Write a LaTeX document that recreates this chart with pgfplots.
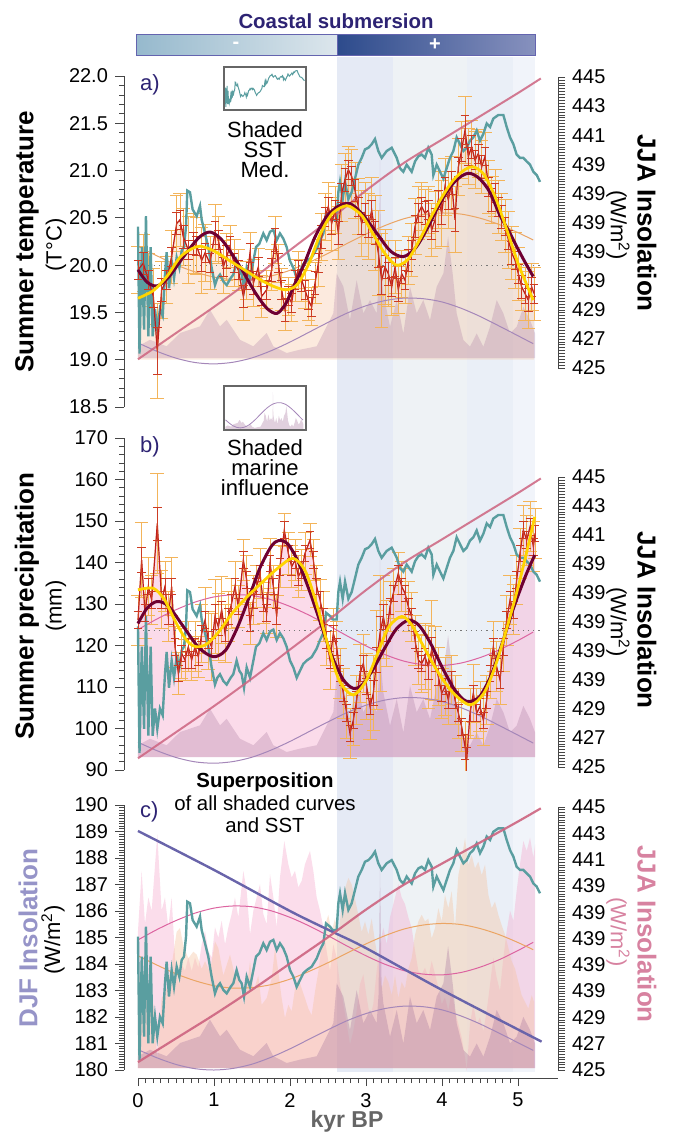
\documentclass[border=0pt]{standalone}
\usepackage{fontspec}
\setmainfont{Liberation Sans}
\usepackage{pgfplots}
\usepackage{pgfplotstable}
\pgfplotsset{compat=1.18}

\definecolor{teal2}{RGB}{90,158,160}
\definecolor{jja}{RGB}{205,100,128}
\definecolor{djf}{RGB}{105,100,170}
\definecolor{redL}{RGB}{190,30,30}
\definecolor{redE}{RGB}{205,60,35}
\definecolor{orE}{RGB}{243,180,90}
\definecolor{maroon}{RGB}{110,0,50}
\definecolor{yel}{RGB}{255,212,0}
\definecolor{sinO}{RGB}{235,165,100}
\definecolor{sinP}{RGB}{165,135,185}
\definecolor{sinK}{RGB}{220,100,160}
\definecolor{peachF}{RGB}{245,195,160}
\definecolor{mauve}{RGB}{170,120,160}
\definecolor{pinkF}{RGB}{245,170,205}
\definecolor{navy}{RGB}{45,35,115}
\definecolor{axgray}{RGB}{70,70,70}
\definecolor{dotg}{RGB}{120,120,120}
\definecolor{bandA}{RGB}{229,234,245}
\definecolor{bandB}{RGB}{238,242,245}
\definecolor{bandC}{RGB}{234,239,247}
\definecolor{bandD}{RGB}{241,244,250}
\definecolor{djfT}{RGB}{150,148,200}
\definecolor{jjaT}{RGB}{215,130,160}
\definecolor{banL1}{RGB}{150,185,205}
\definecolor{banL2}{RGB}{220,230,236}
\definecolor{banR1}{RGB}{45,75,140}
\definecolor{banR2}{RGB}{135,145,190}
\definecolor{banB}{RGB}{100,100,175}

\newcommand{\tf}{\fontsize{10pt}{12pt}\selectfont}

\pgfplotstableread{
x y e r
0.000 19.95 0.25 0.10
0.070 20.02 0.30 0.12
0.136 19.84 0.28 0.10
0.202 19.67 0.30 0.12
0.254 19.09 0.50 0.25
0.311 19.74 0.30 0.12
0.377 19.84 0.25 0.10
0.443 20.09 0.28 0.10
0.509 20.44 0.30 0.12
0.553 20.48 0.28 0.10
0.596 20.30 0.30 0.12
0.662 20.16 0.35 0.10
0.728 20.23 0.32 0.12
0.772 20.20 0.30 0.10
0.838 20.05 0.35 0.12
0.882 20.13 0.30 0.10
0.947 20.02 0.28 0.10
1.013 20.34 0.30 0.12
1.057 20.27 0.25 0.10
1.123 19.98 0.28 0.10
1.167 20.09 0.25 0.12
1.211 20.20 0.22 0.10
1.263 20.02 0.25 0.10
1.320 19.95 0.22 0.10
1.386 19.67 0.25 0.12
1.430 19.84 0.20 0.10
1.474 20.13 0.22 0.10
1.518 19.81 0.25 0.12
1.583 19.98 0.20 0.10
1.627 19.67 0.22 0.10
1.693 19.74 0.20 0.10
1.759 19.95 0.22 0.12
1.803 20.27 0.25 0.12
1.846 20.02 0.20 0.10
1.890 19.74 0.22 0.10
1.934 19.53 0.22 0.12
1.978 19.67 0.20 0.10
2.022 19.60 0.20 0.10
2.066 19.84 0.22 0.10
2.110 19.95 0.20 0.10
2.154 19.84 0.22 0.12
2.197 19.74 0.20 0.10
2.241 19.63 0.22 0.10
2.285 19.56 0.20 0.10
2.329 19.81 0.22 0.12
2.373 20.02 0.25 0.10
2.417 20.30 0.25 0.12
2.461 20.51 0.25 0.10
2.504 20.62 0.25 0.10
2.548 20.44 0.28 0.12
2.592 20.58 0.25 0.10
2.636 20.34 0.28 0.12
2.680 20.76 0.30 0.10
2.724 20.90 0.28 0.12
2.768 21.01 0.25 0.10
2.811 20.94 0.28 0.10
2.855 20.79 0.30 0.12
2.899 20.62 0.30 0.10
2.943 20.44 0.35 0.12
2.987 20.55 0.32 0.10
3.031 20.41 0.35 0.12
3.075 20.58 0.35 0.10
3.118 20.34 0.40 0.12
3.162 20.13 0.45 0.15
3.206 19.84 0.50 0.15
3.250 19.98 0.40 0.12
3.294 19.91 0.35 0.12
3.338 19.77 0.30 0.10
3.382 19.98 0.28 0.10
3.425 19.74 0.25 0.12
3.469 19.91 0.25 0.10
3.513 19.84 0.25 0.10
3.557 20.05 0.25 0.12
3.601 20.16 0.28 0.10
3.645 20.41 0.30 0.12
3.689 20.55 0.28 0.10
3.732 20.62 0.25 0.10
3.776 20.55 0.25 0.12
3.820 20.58 0.25 0.10
3.864 20.37 0.28 0.10
3.908 20.48 0.30 0.12
3.952 20.69 0.30 0.10
3.996 20.55 0.35 0.12
4.039 20.83 0.30 0.10
4.083 20.69 0.30 0.10
4.127 20.87 0.28 0.12
4.171 20.48 0.35 0.12
4.215 21.04 0.30 0.10
4.259 21.22 0.30 0.12
4.303 21.43 0.35 0.15
4.346 21.15 0.30 0.10
4.390 21.25 0.28 0.12
4.434 21.11 0.30 0.10
4.478 21.18 0.25 0.10
4.522 21.04 0.28 0.12
4.566 21.15 0.25 0.10
4.610 20.83 0.28 0.10
4.654 20.69 0.25 0.12
4.697 20.76 0.25 0.10
4.741 20.62 0.28 0.10
4.785 20.51 0.25 0.12
4.829 20.41 0.28 0.10
4.873 20.27 0.30 0.10
4.917 20.13 0.28 0.12
4.961 20.05 0.30 0.10
5.004 19.91 0.28 0.10
5.048 19.77 0.25 0.12
5.092 19.70 0.28 0.10
5.136 19.63 0.30 0.12
5.180 19.77 0.25 0.10
5.211 19.70 0.28 0.10
}\Tdata

\pgfplotstableread{
x y e r
0.000 126.1 6 2
0.048 140.6 9 3
0.092 127.8 6 2
0.136 134.2 7 2
0.180 131.0 6 2
0.254 149.4 12 4
0.311 131.0 7 2
0.355 134.2 6 2
0.399 127.0 6 2
0.443 134.2 7 2
0.487 119.7 5 2
0.531 113.3 5 2
0.575 118.1 6 2
0.618 116.5 5 2
0.662 119.7 6 2
0.706 116.5 5 2
0.750 119.7 6 2
0.794 117.3 5 2
0.838 122.9 7 2
0.882 126.1 8 2
0.925 121.3 7 2
0.969 119.7 8 2
1.013 127.0 9 3
1.057 124.5 8 2
1.101 128.6 8 2
1.145 122.9 7 2
1.189 127.0 6 2
1.232 130.2 6 2
1.276 134.2 6 2
1.320 129.4 5 2
1.386 140.6 5 2
1.430 135.8 6 2
1.474 125.3 5 2
1.518 131.0 6 2
1.561 134.2 5 2
1.605 137.4 6 2
1.649 130.2 5 2
1.693 127.8 5 2
1.737 139.8 6 2
1.781 134.2 5 2
1.825 127.0 5 2
1.868 139.0 5 2
1.925 147.8 4 2
1.978 142.2 5 2
2.022 139.0 5 2
2.066 140.6 5 2
2.110 136.6 5 2
2.154 138.2 5 2
2.197 142.2 5 2
2.263 145.4 4 2
2.307 140.6 5 2
2.351 134.2 5 2
2.395 131.0 5 2
2.439 127.0 6 2
2.482 121.3 6 2
2.526 116.5 7 2
2.570 122.9 6 2
2.614 119.7 6 2
2.658 113.3 6 2
2.702 108.5 6 2
2.746 103.7 6 2
2.789 98.8 6 2
2.833 102.0 6 2
2.877 106.9 6 2
2.921 113.3 7 2
2.965 115.7 7 2
3.009 110.1 8 2
3.053 105.3 8 2
3.096 108.5 9 3
3.140 116.5 12 3
3.184 122.9 14 4
3.228 126.9 10 3
3.272 122.9 8 2
3.316 129.4 6 2
3.360 132.6 6 2
3.425 137.4 5 2
3.469 134.2 6 2
3.513 132.6 6 2
3.557 129.4 6 2
3.601 126.9 6 2
3.645 121.3 6 2
3.689 116.5 6 2
3.732 115.7 7 2
3.776 117.3 8 2
3.820 114.9 10 3
3.864 118.9 12 3
3.908 115.7 9 2
3.952 112.5 7 2
3.996 108.5 6 2
4.039 110.1 7 2
4.083 106.9 6 2
4.127 111.7 6 2
4.171 106.9 6 2
4.215 103.7 6 2
4.259 100.4 6 2
4.303 95.6 6 3
4.325 92.4 6 3
4.368 103.7 6 2
4.412 108.5 7 2
4.456 103.7 6 2
4.500 105.3 6 2
4.544 102.0 6 2
4.588 106.9 6 2
4.632 113.3 6 2
4.675 119.7 6 2
4.719 114.9 6 2
4.763 111.7 6 2
4.807 119.7 6 2
4.851 126.1 6 2
4.895 131.0 6 2
4.939 128.6 6 2
4.982 135.8 6 2
5.026 142.2 6 2
5.070 147.8 6 2
5.114 145.4 6 2
5.158 148.6 6 2
5.202 143.8 6 2
5.224 147.0 6 2
}\Pdata

\pgfplotstableread{
x y
0.000 185.03
0.020 180.38
0.050 184.28
0.080 181.26
0.105 185.41
0.136 181.01
0.167 184.28
0.193 181.01
0.224 182.01
0.254 181.26
0.289 182.01
0.325 181.76
0.355 183.27
0.377 184.09
0.408 182.77
0.443 183.77
0.474 183.14
0.509 183.90
0.544 183.52
0.575 184.15
0.605 184.28
0.632 185.03
0.649 186.35
0.684 186.29
0.719 185.66
0.772 185.41
0.816 185.79
0.838 185.28
0.882 184.78
0.925 184.28
0.969 183.52
1.013 182.89
1.044 183.14
1.079 183.27
1.123 183.02
1.167 182.89
1.219 183.14
1.254 183.27
1.298 183.77
1.333 183.40
1.364 183.27
1.395 182.77
1.430 183.52
1.474 183.14
1.518 183.77
1.553 184.28
1.596 184.40
1.649 184.78
1.693 184.53
1.737 184.84
1.781 184.91
1.825 184.53
1.868 184.78
1.912 184.59
1.956 184.28
2.000 183.77
2.044 183.52
2.088 183.14
2.132 183.40
2.175 183.65
2.219 183.77
2.285 183.90
2.351 184.21
2.395 184.53
2.439 184.78
2.474 185.53
2.526 185.41
2.561 185.28
2.614 185.28
2.636 186.29
2.658 186.67
2.693 186.04
2.724 186.67
2.768 186.04
2.811 186.29
2.855 186.79
2.899 187.30
2.943 187.55
2.987 187.86
3.031 187.92
3.075 188.05
3.118 188.24
3.162 187.80
3.206 187.55
3.272 187.80
3.338 187.92
3.404 187.55
3.447 187.17
3.491 187.04
3.535 187.30
3.601 187.04
3.645 187.42
3.689 187.61
3.732 187.67
3.776 187.55
3.820 187.92
3.864 187.67
3.886 186.92
3.930 187.30
3.974 187.04
4.018 186.79
4.061 187.17
4.105 187.55
4.149 187.80
4.193 188.30
4.237 188.05
4.281 187.80
4.325 187.92
4.368 188.18
4.412 188.30
4.456 188.55
4.500 188.18
4.544 188.43
4.588 188.81
4.632 188.68
4.675 188.99
4.741 189.12
4.807 189.12
4.851 188.68
4.895 188.30
4.939 188.05
4.982 187.67
5.026 187.55
5.070 187.55
5.114 187.42
5.158 187.30
5.202 187.04
5.246 186.92
5.289 186.67
}\SST

\pgfplotstableread{
x m
0.000 5.6
0.158 8.7
0.377 5.6
0.553 11.9
0.816 15.1
0.947 23.0
1.079 15.1
1.167 18.2
1.342 8.7
1.518 5.6
1.693 11.9
1.781 5.6
1.956 2.4
2.132 4.0
2.351 5.6
2.570 21.4
2.614 40.3
2.702 34.0
2.789 18.1
2.877 37.1
2.965 21.3
3.053 27.6
3.140 21.3
3.165 35.0
3.184 94.3
3.205 40.0
3.228 30.8
3.316 14.9
3.404 27.6
3.491 11.7
3.579 34.0
3.667 21.3
3.754 27.6
3.842 18.1
3.930 34.0
4.018 40.3
4.080 58.0
4.140 40.3
4.193 21.3
4.281 8.6
4.368 5.4
4.456 11.7
4.544 5.4
4.632 14.9
4.719 27.6
4.807 21.3
4.895 11.7
4.982 14.9
5.070 24.4
5.158 18.1
5.224 11.7
}\Mar

\pgfplotstableread{
x k o p
0.00 184.91 184.31 180.77
0.25 185.30 183.96 180.46
0.50 185.64 183.63 180.21
0.75 185.92 183.37 180.05
1.00 186.11 183.18 180.00
1.25 186.19 183.09 180.06
1.50 186.16 183.11 180.22
1.75 186.01 183.22 180.48
2.00 185.76 183.43 180.80
2.25 185.44 183.72 181.16
2.50 185.07 184.05 181.52
2.75 184.68 184.41 181.86
3.00 184.31 184.76 182.13
3.25 183.99 185.07 182.32
3.50 183.75 185.32 182.41
3.75 183.62 185.47 182.39
4.00 183.59 185.53 182.27
4.25 183.68 185.49 182.04
4.50 183.88 185.34 181.74
4.75 184.16 185.11 181.39
5.00 184.51 184.81 181.03
5.20 184.82 184.54 180.74
}\Sin

\pgfplotstableread{
x y
0.0 425.6
0.5 427.4
1.0 429.2
1.5 431.1
2.0 433.1
2.5 435.1
3.0 437.2
3.5 439.1
4.0 440.7
4.5 442.3
5.0 443.9
5.3 444.9
}\JJA

\pgfplotstableread{
x y
0.00 189.02
1.00 187.55
2.00 186.00
2.57 185.20
3.00 184.60
4.00 183.02
5.31 181.07
}\DJF

\pgfplotstableread{
x y
0.00 19.95
0.12 19.82
0.25 19.78
0.40 19.87
0.60 20.09
0.80 20.29
0.95 20.35
1.10 20.27
1.25 20.10
1.39 19.92
1.55 19.70
1.70 19.54
1.83 19.49
1.95 19.60
2.05 19.78
2.18 20.00
2.33 20.30
2.48 20.51
2.63 20.62
2.79 20.65
2.95 20.54
3.14 20.34
3.32 20.15
3.49 20.09
3.65 20.18
3.80 20.38
3.95 20.62
4.10 20.82
4.25 20.94
4.37 20.97
4.50 20.91
4.63 20.77
4.76 20.53
4.88 20.36
4.98 20.20
5.10 20.02
5.20 19.88
}\MarA

\pgfplotstableread{
x y
0.00 19.65
0.20 19.73
0.38 19.88
0.55 20.08
0.70 20.17
0.82 20.20
1.00 20.15
1.20 20.05
1.40 19.95
1.60 19.85
1.80 19.77
1.96 19.74
2.10 19.80
2.25 20.02
2.40 20.33
2.55 20.54
2.70 20.62
2.79 20.62
2.95 20.52
3.10 20.32
3.25 20.12
3.40 20.00
3.55 20.06
3.70 20.26
3.85 20.50
4.00 20.72
4.15 20.90
4.30 21.01
4.41 21.04
4.55 20.96
4.70 20.72
4.85 20.38
5.00 20.02
5.10 19.82
5.20 19.63
}\YelA

\pgfplotstableread{
x y
0.00 125.3
0.12 129.0
0.25 130.6
0.40 129.5
0.60 124.5
0.80 119.5
0.99 117.3
1.15 118.8
1.30 124.0
1.45 131.0
1.60 138.5
1.75 143.8
1.85 145.3
1.97 144.5
2.10 140.5
2.25 133.5
2.40 125.5
2.55 117.5
2.70 111.8
2.83 109.7
2.95 110.5
3.10 114.5
3.25 119.5
3.40 124.0
3.56 126.1
3.70 124.8
3.85 120.5
4.00 114.8
4.15 109.8
4.28 107.0
4.37 106.5
4.50 107.8
4.65 113.0
4.80 121.0
4.95 129.5
5.10 136.8
5.22 141.8
}\MarB

\pgfplotstableread{
x y
0.00 133.4
0.20 133.8
0.35 131.0
0.50 125.5
0.65 121.0
0.77 119.7
0.90 120.3
1.05 123.0
1.25 128.0
1.45 132.0
1.65 135.5
1.85 138.8
2.04 141.0
2.20 138.0
2.35 130.0
2.50 120.0
2.65 111.5
2.83 108.1
3.00 111.5
3.15 118.0
3.30 124.5
3.47 127.0
3.60 125.0
3.75 120.0
3.95 113.5
4.15 108.5
4.37 105.7
4.55 108.5
4.70 115.0
4.85 124.0
5.00 134.0
5.12 143.0
5.22 151.0
}\YelB

\pgfplotsset{
  base/.style={scale only axis, width=217pt, xmin=-0.184, xmax=5.526},
  hid/.style={base, hide axis},
  pa/.style={at={(62pt,-203.5pt)}, height=165.5pt},
  pb/.style={at={(62pt,-385pt)}, height=166pt},
  pc/.style={at={(62pt,-535pt)}, height=132.5pt},
  leftax/.style={base, axis x line=none, axis y line*=left,
    axis line style={-, axgray, line width=0.5pt}, tick align=outside, ytick pos=left,
    major tick length=4.5pt, minor tick length=2.5pt,
    tick style={axgray, line width=0.4pt}, yticklabel style={font=\tf, text=black}},
  rightax/.style={base, axis x line=none, axis y line*=right,
    axis line style={-, axgray, line width=0.5pt}, tick align=outside, ytick pos=right,
    ymin=425, ymax=445, ytick={425,427,...,445},
    yticklabels={425,427,429,439,439,439,439,439,441,443,445},
    minor y tick num=9, major tick length=3.5pt, minor tick length=3.5pt,
    tick style={axgray, line width=0.3pt}, yticklabel style={font=\tf, text=black}},
}

\begin{document}
\begin{tikzpicture}
\useasboundingbox (0,0) rectangle (336.5pt,-567pt);
% background bands
\fill[bandA] (168.5pt,-28.5pt) rectangle (196.5pt,-536pt);
\fill[bandB] (196.5pt,-28.5pt) rectangle (233.5pt,-536pt);
\fill[bandC] (233.5pt,-28.5pt) rectangle (256.5pt,-536pt);
\fill[bandD] (256.5pt,-28.5pt) rectangle (267.5pt,-536pt);
% banner
\shade[left color=banL1, right color=banL2] (68pt,-17.5pt) rectangle (168.5pt,-28pt);
\shade[left color=banR1, right color=banR2] (168.5pt,-17.5pt) rectangle (267.5pt,-28pt);
\draw[banB, line width=0.5pt] (68pt,-17.5pt) rectangle (267.5pt,-28pt);
\draw[banB, line width=0.5pt] (168.5pt,-17.5pt) -- (168.5pt,-28pt);
\node[white, font=\bfseries\fontsize{10}{12}\selectfont] at (118pt,-22.5pt) {-};
\node[white, font=\bfseries\fontsize{10}{12}\selectfont] at (217.5pt,-22.5pt) {+};
\node[navy, font=\bfseries\fontsize{10.2}{12}\selectfont] at (168pt,-10.5pt) {Coastal submersion};

% ================= PANEL A =================
\begin{axis}[hid, pa, ymin=18.5, ymax=22]
\addplot[fill=peachF, fill opacity=0.35, draw=none] table[x=x,y=y]{\Tdata} -- (axis cs:5.211,19) -- (axis cs:0,19) -- cycle;
\end{axis}
\begin{axis}[hid, pa, ymin=-23.3, ymax=134.3]
\addplot[fill=mauve, fill opacity=0.28, draw=none] table[x=x,y=m]{\Mar} \closedcycle;
\end{axis}
\begin{axis}[leftax, pa, ymin=18.5, ymax=22, ytick={18.5,19,...,22}, minor y tick num=4,
  yticklabel style={/pgf/number format/fixed, /pgf/number format/fixed zerofill,
  /pgf/number format/precision=1, /pgf/number format/assume math mode=true}]
\addplot[orE, line width=0.45pt, mark=none, error bars/.cd, y dir=both, y explicit,
  error bar style={orE, line width=0.45pt}, error mark options={orE, rotate=90, mark size=3.4pt, line width=0.45pt}]
  table[x=x,y=y,y error=e]{\Tdata};
\addplot[dotg, dotted, line width=0.6pt] coordinates {(0,20) (5.29,20)};
\end{axis}
\begin{axis}[hid, pa, ymin=178.42, ymax=190.55]
\addplot[sinO, line width=0.5pt, smooth] table[x=x,y=o]{\Sin};
\addplot[sinP, line width=0.5pt, smooth] table[x=x,y=p]{\Sin};
\addplot[teal2, line width=1.2pt] table[x=x,y=y]{\SST};
\end{axis}
\begin{axis}[rightax, at={(62pt,-184pt)}, height=145.5pt]
\addplot[jja, opacity=0.85, line width=1pt, smooth] table[x=x,y=y]{\JJA};
\end{axis}
\begin{axis}[base, pa, ymin=18.5, ymax=22, axis lines=none]
\addplot[redL, line width=0.6pt, mark=none, error bars/.cd, y dir=both, y explicit,
  error bar style={redE, line width=0.4pt}, error mark options={redE, rotate=90, mark size=2.2pt, line width=0.4pt}]
  table[x=x,y=y,y error=r]{\Tdata};
\addplot[maroon, line width=1.5pt, smooth] table[x=x,y=y]{\MarA};
\addplot[yel, line width=1.4pt, smooth] table[x=x,y=y]{\YelA};
\end{axis}

% ================= PANEL B =================
\begin{axis}[hid, pb, ymin=90, ymax=170]
\addplot[fill=pinkF, fill opacity=0.42, draw=none] table[x=x,y=y]{\Pdata} -- (axis cs:5.224,93.1) -- (axis cs:0,93.1) -- cycle;
\end{axis}
\begin{axis}[hid, pb, ymin=-6.19, ymax=151.9]
\addplot[fill=mauve, fill opacity=0.3, draw=none] table[x=x,y=m]{\Mar} \closedcycle;
\end{axis}
\begin{axis}[leftax, pb, ymin=90, ymax=170, ytick={90,100,...,170}, minor y tick num=4,
  yticklabel style={/pgf/number format/assume math mode=true}]
\addplot[orE, line width=0.45pt, mark=none, error bars/.cd, y dir=both, y explicit,
  error bar style={orE, line width=0.45pt}, error mark options={orE, rotate=90, mark size=3.4pt, line width=0.45pt}]
  table[x=x,y=y,y error=e]{\Pdata};
\addplot[dotg, dotted, line width=0.6pt] coordinates {(0,123.6) (5.29,123.6)};
\end{axis}
\begin{axis}[hid, pb, ymin=179.75, ymax=191.95]
\addplot[sinK, line width=0.5pt, smooth] table[x=x,y=k]{\Sin};
\addplot[sinP, line width=0.5pt, smooth] table[x=x,y=p]{\Sin};
\addplot[teal2, line width=1.2pt] table[x=x,y=y]{\SST};
\end{axis}
\begin{axis}[rightax, at={(62pt,-383.5pt)}, height=145pt]
\addplot[jja, opacity=0.85, line width=1pt, smooth] table[x=x,y=y]{\JJA};
\end{axis}
\begin{axis}[base, pb, ymin=90, ymax=170, axis lines=none]
\addplot[redL, line width=0.6pt, mark=none, error bars/.cd, y dir=both, y explicit,
  error bar style={redE, line width=0.4pt}, error mark options={redE, rotate=90, mark size=2.2pt, line width=0.4pt}]
  table[x=x,y=y,y error=r]{\Pdata};
\addplot[maroon, line width=1.5pt, smooth] table[x=x,y=y]{\MarB};
\addplot[yel, line width=1.4pt, smooth] table[x=x,y=y]{\YelB};
\end{axis}

% ================= PANEL C =================
\begin{axis}[hid, pc, ymin=92.62, ymax=156.47]
\addplot[fill=pinkF, fill opacity=0.4, draw=none] table[x=x,y=y]{\Pdata} -- (axis cs:5.224,93.1) -- (axis cs:0,93.1) -- cycle;
\end{axis}
\begin{axis}[hid, pc, ymin=18.98, ymax=21.78]
\addplot[fill=peachF, fill opacity=0.4, draw=none] table[x=x,y=y]{\Tdata} -- (axis cs:5.211,19) -- (axis cs:0,19) -- cycle;
\end{axis}
\begin{axis}[hid, pc, ymin=-0.95, ymax=125.2]
\addplot[fill=mauve, fill opacity=0.35, draw=none] table[x=x,y=m]{\Mar} \closedcycle;
\end{axis}
\begin{axis}[leftax, pc, ymin=180, ymax=190, ytick={180,181,...,190}, minor y tick num=9,
  yticklabel style={/pgf/number format/assume math mode=true}]
\addplot[sinK, line width=0.5pt, smooth] table[x=x,y=k]{\Sin};
\addplot[sinO, line width=0.5pt, smooth] table[x=x,y=o]{\Sin};
\addplot[sinP, line width=0.5pt, smooth] table[x=x,y=p]{\Sin};
\addplot[teal2, line width=1.2pt] table[x=x,y=y]{\SST};
\addplot[djf, line width=1.2pt, smooth] table[x=x,y=y]{\DJF};
\end{axis}
\begin{axis}[rightax, at={(62pt,-535pt)}, height=131.5pt]
\addplot[jja, opacity=0.9, line width=1.1pt, smooth] table[x=x,y=y]{\JJA};
\end{axis}

% bottom x axis
\begin{axis}[scale only axis, width=210pt, height=5pt, at={(69pt,-539pt)},
  xmin=0, xmax=5.526, ymin=0, ymax=1, axis y line=none, axis x line*=bottom,
  axis line style={-, axgray, line width=0.5pt}, tick align=outside, xtick pos=bottom,
  xtick={0,1,...,5}, minor x tick num=9, major tick length=4pt, minor tick length=2.5pt,
  tick style={axgray, line width=0.4pt},
  xticklabel style={font=\tf, /pgf/number format/assume math mode=true}]
\addplot[draw=none] coordinates {(0,0.5) (5,0.5)};
\end{axis}

% insets
\begin{axis}[scale only axis, width=41pt, height=21.5pt, at={(112pt,-55pt)},
  xmin=-0.1, xmax=5.4, ymin=179.6, ymax=190, xtick=\empty, ytick=\empty,
  axis line style={black!60, line width=0.6pt}]
\addplot[teal2, line width=0.5pt] table[x=x,y=y]{\SST};
\end{axis}
\begin{axis}[scale only axis, width=41pt, height=22pt, at={(112pt,-215pt)},
  xmin=-0.1, xmax=5.4, ymin=-3, ymax=110, xtick=\empty, ytick=\empty,
  axis line style={black!60, line width=0.6pt}]
\addplot[fill=mauve, fill opacity=0.35, draw=none] table[x=x,y=m]{\Mar} \closedcycle;
\end{axis}
\begin{axis}[scale only axis, width=41pt, height=22pt, at={(112pt,-215pt)},
  xmin=-0.1, xmax=5.4, ymin=179.8, ymax=184, hide axis]
\addplot[sinP, line width=0.4pt, smooth] table[x=x,y=p]{\Sin};
\end{axis}

% texts
\node[align=center, font=\fontsize{11}{10}\selectfont] at (132.5pt,-75pt) {Shaded\\SST\\Med.};
\node[align=center, font=\fontsize{11}{10}\selectfont] at (132.5pt,-234pt) {Shaded\\marine\\influence};
\node[align=center, font=\fontsize{10.2}{11.25}\selectfont] at (132.5pt,-401.5pt) {\textbf{Superposition}\\of all shaded curves\\and SST};
\node[navy, anchor=west, font=\fontsize{11}{12}\selectfont] at (66.5pt,-42.5pt) {a)};
\node[navy, anchor=west, font=\fontsize{11}{12}\selectfont] at (66.5pt,-223.5pt) {b)};
\node[navy, anchor=west, font=\fontsize{11}{12}\selectfont] at (66.5pt,-406pt) {c)};

\node[rotate=90, font=\bfseries\fontsize{13}{15}\selectfont] at (13.5pt,-121pt) {Summer temperature};
\node[rotate=90, font=\fontsize{11}{13}\selectfont] at (28pt,-122.5pt) {(T°C)};
\node[rotate=90, font=\bfseries\fontsize{13}{15}\selectfont] at (13.5pt,-303pt) {Summer precipitation};
\node[rotate=90, font=\fontsize{11}{13}\selectfont] at (28pt,-303pt) {(mm)};
\node[rotate=90, djfT, font=\bfseries\fontsize{13}{15}\selectfont] at (14pt,-469pt) {DJF Insolation};
\node[rotate=90, font=\fontsize{11}{13}\selectfont] at (26.5pt,-470pt) {(W/m\textsuperscript{2})};

\node[rotate=-90, font=\bfseries\fontsize{13}{15}\selectfont] at (323.5pt,-111.5pt) {JJA Insolation};
\node[rotate=-90, font=\fontsize{11}{13}\selectfont] at (309pt,-112.5pt) {(W/m\textsuperscript{2})};
\node[rotate=-90, font=\bfseries\fontsize{13}{15}\selectfont] at (323.5pt,-310pt) {JJA Insolation};
\node[rotate=-90, font=\fontsize{11}{13}\selectfont] at (309pt,-311pt) {(W/m\textsuperscript{2})};
\node[rotate=-90, jjaT, font=\bfseries\fontsize{13}{15}\selectfont] at (323.5pt,-467pt) {JJA Insolation};
\node[rotate=-90, jjaT, font=\fontsize{11}{13}\selectfont] at (309pt,-466pt) {(W/m\textsuperscript{2})};

\node[black!60, font=\bfseries\fontsize{11.5}{13}\selectfont] at (173.5pt,-561pt) {kyr BP};
\end{tikzpicture}
\end{document}
